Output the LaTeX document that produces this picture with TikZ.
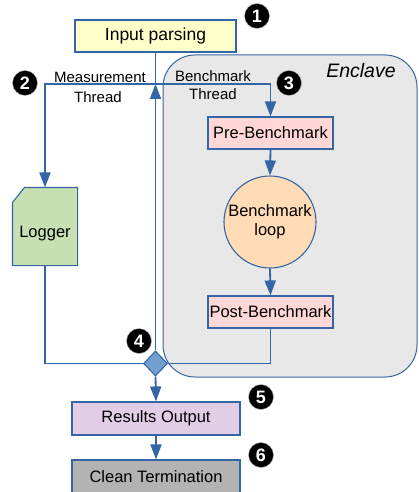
\documentclass[tikz,border=0pt]{standalone}
\usepackage{fontspec}
\setmainfont{Liberation Sans}
\usetikzlibrary{arrows.meta,shapes.geometric}
\definecolor{lnblue}{HTML}{3465A4}
\definecolor{inpfill}{HTML}{FFFFCC}
\definecolor{benchfill}{HTML}{FFD7D7}
\definecolor{loopfill}{HTML}{FFDBB6}
\definecolor{logfill}{HTML}{C6E0B4}
\definecolor{resfill}{HTML}{E1CDE6}
\definecolor{termfill}{HTML}{B3B3B3}
\definecolor{diafill}{HTML}{729FCF}
\definecolor{enclfill}{HTML}{E8E8E8}
\tikzset{
  box/.style={draw=lnblue, line width=1.1pt, inner sep=0pt, align=center,
    font=\fontsize{16.5}{19}\selectfont},
  conn/.style={draw=lnblue, line width=1.8pt},
  arr/.style={conn, -{Triangle[length=15pt,width=11pt]}},
  badge/.style={circle, fill=black, draw=gray!60, line width=0.4pt,
    minimum size=25pt, inner sep=0pt, text=white,
    font=\fontsize{18}{18}\selectfont\bfseries},
  lbl/.style={font=\fontsize{15}{17}\selectfont, inner sep=0pt}
}
\begin{document}
\begin{tikzpicture}[x=1pt,y=-1pt]
\useasboundingbox (0,0) rectangle (418,492);

% enclave region
\draw[draw=lnblue, line width=1pt, fill=enclfill, rounded corners=32pt]
  (163,55) rectangle (417,377);
\node[font=\fontsize{19.5}{22}\selectfont\itshape, inner sep=0pt] (encl) at (361,71) {Enclave};

% main nodes
\node[box, fill=inpfill, minimum width=161pt, minimum height=32pt,
  font=\fontsize{17.5}{20}\selectfont] (inp) at (155.5,36) {Input parsing};
\node[box, fill=benchfill, minimum width=125pt, minimum height=32pt] (pre) at (270.5,133) {Pre-Benchmark};
\node[box, circle, fill=loopfill, minimum size=92pt] (loop) at (270,222) {Benchmark\\loop};
\node[box, fill=benchfill, minimum width=125pt, minimum height=32pt] (post) at (270.5,312) {Post-Benchmark};
\node[box, diamond, fill=diafill, minimum width=24pt, minimum height=25pt] (dia) at (155.5,363.5) {};
\node[box, fill=resfill, minimum width=168pt, minimum height=33pt] (res) at (156,418.5) {Results Output};
\node[box, fill=termfill, minimum width=168pt, minimum height=34pt] (term) at (156,477) {Clean Termination};

% logger with a cut corner
\node[box, draw=none, minimum width=64pt, minimum height=77pt] (logger) at (45,226.5) {};
\draw[draw=lnblue, line width=1.1pt, fill=logfill]
  ([yshift=-15pt]logger.north west) -- ([xshift=12pt]logger.north west)
  -- (logger.north east) -- (logger.south east) -- (logger.south west) -- cycle;
\node[box, draw=none] (loglabel) at ([yshift=-7pt]logger.center) {Logger};

% thread split
\coordinate (jn) at (155.5,84);
\draw[conn] (inp.south) -- (jn);
\draw[arr] (jn) -| (logger.north);
\draw[arr] (jn) -| (pre.north);
\draw[arr] (dia.north) -- (jn);

% benchmark flow
\draw[arr] (pre.south) -- (loop.north);
\draw[arr] (loop.south) -- (post.north);
\draw[conn] (post.south) |- (dia.east);
\draw[conn] (logger.south) |- (dia.west);
\draw[arr] (dia.south) -- (res.north);
\draw[arr] (res.south) -- (term.north);

% thread labels
\node[lbl] (mlab1) at (100,77) {Measurement};
\node[lbl] (mlab2) at (98,97) {Thread};
\node[lbl] (blab1) at (213,76) {Benchmark};
\node[lbl] (blab2) at (213,94) {Thread};

% step markers
\node[badge] (b1) at (257,16) {1};
\node[badge] (b2) at (25,83) {2};
\node[badge] (b3) at (289,83) {3};
\node[badge] (b4) at (139,341) {4};
\node[badge] (b5) at (261,397) {5};
\node[badge] (b6) at (261,455) {6};
\end{tikzpicture}
\end{document}
